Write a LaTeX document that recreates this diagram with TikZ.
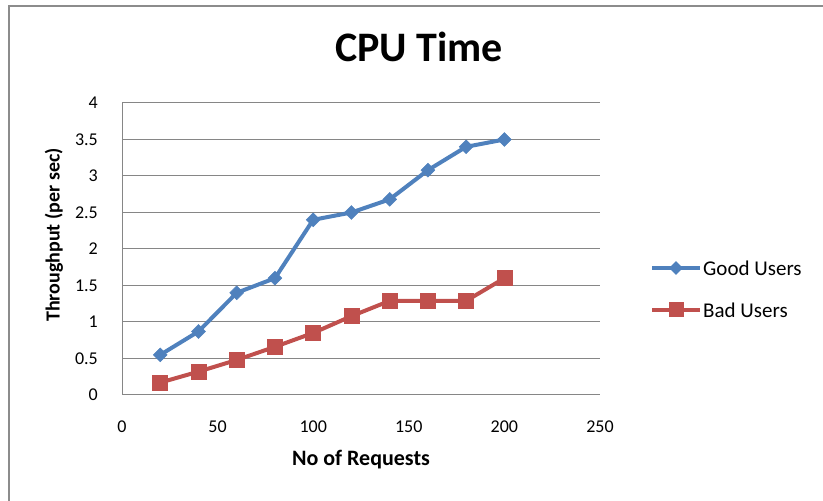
\documentclass[tikz,border=0pt]{standalone}
\usepackage{fontspec}
\setmainfont{Carlito}
\usepackage{pgfplots}
\pgfplotsset{compat=1.18}
\usetikzlibrary{plotmarks, calc}
\definecolor{xlblue}{HTML}{4F81BD}
\definecolor{xlred}{HTML}{C0504D}
\definecolor{xlgrid}{HTML}{868686}
\definecolor{xlframe}{HTML}{8C8C8C}

\begin{document}
\begin{tikzpicture}[
  x=1pt, y=1pt,
  goodline/.style={xlblue, line width=4pt, mark=square*, mark size=4.9pt, mark options={solid, rotate=45, fill=xlblue, draw=xlblue, line width=0.5pt}},
  badline/.style={xlred, line width=4pt, mark=square*, mark size=7.5pt, mark options={solid, fill=xlred, draw=xlred, line width=0.5pt}},
  titletext/.style={font=\fontsize{42}{46}\selectfont\bfseries, inner sep=0pt},
  axistext/.style={font=\fontsize{20}{23}\selectfont\bfseries, inner sep=0pt},
  legendtext/.style={font=\fontsize{21}{24}\selectfont, inner sep=0pt, anchor=west},
  keymark/.style={inner sep=0pt, outer sep=0pt},
]
\useasboundingbox (0,0) rectangle (823,501);

% chart frame (top and left edge only)
\draw[xlframe, line width=2pt] (9,0) -- (9,495) -- (823,495);

% title
\node[titletext, anchor=base] (title) at (419,439) {CPU Time};

% plot area
\begin{axis}[
  at={(122pt,106pt)}, anchor=south west,
  scale only axis, width=478pt, height=292pt,
  xmin=0, xmax=250, ymin=0, ymax=4,
  xtick={0,50,...,250}, ytick={0,0.5,...,4},
  xticklabels={0,50,100,150,200,250},
  yticklabels={0,0.5,1,1.5,2,2.5,3,3.5,4},
  axis lines*=left,
  axis line style={xlgrid, line width=1pt},
  ymajorgrids, grid style={xlgrid, line width=1pt},
  major tick length=0pt,
  tick label style={font=\fontsize{18}{20}\selectfont, inner sep=0pt},
  yticklabel shift=24pt, xticklabel shift=26pt,
  clip=false,
]
\addplot[goodline] coordinates {(20,0.55) (40,0.87) (60,1.4) (80,1.6) (100,2.4) (120,2.5) (140,2.68) (160,3.08) (180,3.4) (200,3.5)};
\addplot[badline] coordinates {(20,0.17) (40,0.32) (60,0.48) (80,0.66) (100,0.85) (120,1.08) (140,1.29) (160,1.29) (180,1.29) (200,1.6)};
\end{axis}

% axis titles
\node[axistext, font=\fontsize{22}{25}\selectfont\bfseries, anchor=base] (xtitle) at (361,35) {No of Requests};
\node[axistext, rotate=90] (ytitle) at (54,266) {Throughput (per sec)};

% legend
\coordinate (gs) at (652,233);
\coordinate (ge) at (700,233);
\coordinate (bs) at (652,191);
\coordinate (be) at (700,191);
\node[keymark] (gmark) at ($(gs)!0.5!(ge)$) {};
\node[keymark] (bmark) at ($(bs)!0.5!(be)$) {};
\draw[xlblue, line width=4pt] (gs) -- (ge);
\draw[xlred, line width=4pt] (bs) -- (be);
\fill[xlblue, rotate around={45:(gmark)}] ($(gmark)+(-4.9,-4.9)$) rectangle ($(gmark)+(4.9,4.9)$);
\fill[xlred] ($(bmark)+(-7.5,-7.5)$) rectangle ($(bmark)+(7.5,7.5)$);
\node[legendtext] (good) at (703,233) {Good Users};
\node[legendtext] (bad) at (703,191) {Bad Users};
\end{tikzpicture}
\end{document}
